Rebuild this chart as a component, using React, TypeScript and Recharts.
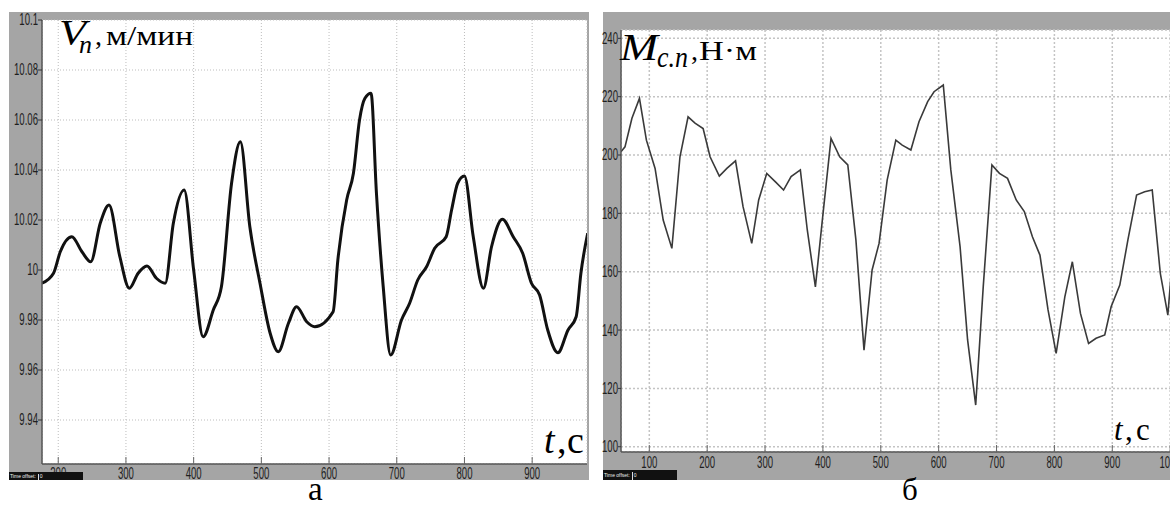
import React from 'react';
import { LineChart, Line, XAxis, YAxis, CartesianGrid } from 'recharts';

// Panel "а": speed V_n, m/min
const speedTime = [
  176, 193, 203, 220, 235, 248, 262, 275, 291, 305, 318, 331, 345, 358, 370, 386, 400, 414, 429, 441,
  456, 469, 483, 498, 513, 525, 540, 552, 567, 579, 606, 613, 626, 636, 645, 653, 662, 670, 680, 691,
  707, 719, 731, 744, 756, 773, 781, 790, 800, 813, 828, 840, 856, 872, 886, 899, 911, 923, 938, 953,
  965, 972, 982,
];
const speedValue = [
  9.9947, 9.9987, 10.0073, 10.0133, 10.0073, 10.0033, 10.0187, 10.026, 10.0053, 9.9927, 9.9987, 10.0016,
  9.9967, 9.9947, 10.0187, 10.032, 10.0, 9.9733, 9.984, 9.9933, 10.0347, 10.0513, 10.0173, 9.9947,
  9.9747, 9.9673, 9.9787, 9.9853, 9.9793, 9.9773, 9.9833, 10.004, 10.028, 10.0387, 10.06, 10.0687,
  10.0707, 10.0307, 9.9933, 9.966, 9.98, 9.9867, 9.996, 10.0013, 10.0087, 10.0133, 10.024, 10.0347,
  10.0376, 10.0133, 9.9927, 10.0093, 10.0203, 10.0133, 10.0067, 9.9947, 9.99, 9.976, 9.9669, 9.976,
  9.9813, 9.9987, 10.0147,
];
const speedXTicks = [200, 300, 400, 500, 600, 700, 800, 900];
const speedYTicks = [9.94, 9.96, 9.98, 10, 10.02, 10.04, 10.06, 10.08, 10.1];

// Panel "б": torque M_c.n, N·m
const torqueTime = [
  51, 58, 70, 83, 95, 110, 124, 139, 153, 167, 179, 193, 205, 221, 234, 249, 262, 277, 289, 303,
  318, 332, 345, 361, 373, 387, 399, 414, 429, 443, 457, 471, 485, 497, 511, 526, 537, 552, 566, 581,
  592, 608, 621, 637, 650, 664, 677, 692, 705, 719, 734, 748, 762, 775, 789, 803, 818, 831, 845, 859,
  872, 887, 898, 913, 927, 942, 956, 969, 983, 996, 1003,
];
const torqueValue = [
  201.1, 202.8, 212.6, 219.4, 205.1, 195.4, 177.7, 168, 199.4, 213.1, 210.9, 209.1, 199.4, 192.8, 195.4,
  198, 182.3, 169.7, 184.6, 193.7, 190.8, 188, 192.6, 194.9, 174.3, 154.8, 177.7, 205.7, 199.4, 196.6,
  170.9, 133.1, 160.6, 169.7, 191.4, 205.1, 203.4, 201.7, 211.4, 218.3, 221.7, 224, 194.9, 168.6, 136.6,
  114.3, 154.8, 196.6, 193.7, 192, 184.6, 180.6, 172, 165.7, 146.9, 132, 151.4, 163.4, 145.7, 135.4,
  137.2, 138.3, 148, 155.4, 170.9, 186.3, 187.4, 188, 159.4, 145.1, 162.3,
];
const torqueXTicks = [100, 200, 300, 400, 500, 600, 700, 800, 900, 1000];
const torqueYTicks = [100, 120, 140, 160, 180, 200, 220, 240];

const speedData = speedTime.map((t, i) => ({ t, v: speedValue[i] }));
const torqueData = torqueTime.map((t, i) => ({ t, v: torqueValue[i] }));

const TICK_FONT = "'Liberation Sans', Arial, sans-serif";
const SERIF = "'Liberation Serif', 'Times New Roman', Times, serif";
const FRAME = '#a5a5a5';

const XTick = (props: any) => {
  const { x, y, payload, gap } = props;
  return (
    <g>
      <line x1={x} x2={x} y1={y - gap} y2={y - gap - 7} stroke="#666" strokeWidth={1} />
      <text
        x={0}
        y={0}
        transform={`translate(${x},${y}) scale(0.6,1)`}
        textAnchor="middle"
        dominantBaseline="central"
        style={{ fontFamily: TICK_FONT }}
        fontSize={16}
        fill="#1e1e1e"
      >
        {payload.value}
      </text>
    </g>
  );
};

const YTick = (props: any) => {
  const { x, y, payload } = props;
  return (
    <text
      x={0}
      y={0}
      transform={`translate(${x},${y}) scale(0.6,1)`}
      textAnchor="end"
      dominantBaseline="central"
      style={{ fontFamily: TICK_FONT }}
      fontSize={16}
      fill="#1e1e1e"
    >
      {payload.value}
    </text>
  );
};

const OffsetBox = ({ left, top, h }: { left: number; top: number; h: number }) => (
  <div
    style={{
      position: 'absolute',
      left,
      top,
      width: 74,
      height: h,
      background: '#111',
      color: '#eee',
      fontFamily: TICK_FONT,
      fontSize: 5,
      lineHeight: `${h}px`,
      overflow: 'hidden',
      whiteSpace: 'nowrap',
    }}
  >
    <span style={{ paddingLeft: 1 }}>Time offset:</span>
    <span style={{ display: 'inline-block', width: 1, height: h - 2, background: '#ddd', marginLeft: 2, verticalAlign: 'middle' }} />
    <span style={{ paddingLeft: 1 }}>0</span>
  </div>
);

const T = (p: any) => <text style={{ fontFamily: SERIF }} fill="#000" {...p} />;

export default function App() {
  return (
    <div
      style={{
        position: 'fixed',
        left: 0,
        top: 0,
        width: 1170,
        height: 506,
        overflow: 'hidden',
        background: '#fff',
      }}
    >
      {/* Left panel frame */}
      <div style={{ position: 'absolute', left: 9, top: 12, width: 580, height: 468, background: FRAME }} />
      <div style={{ position: 'absolute', left: 3, top: 12 }}>
        <LineChart width={586} height={476} data={speedData} margin={{ top: 8, right: 2, bottom: 8, left: 0 }}>
          <CartesianGrid fill="#ffffff" stroke="#bdbdbd" strokeDasharray="1 2" />
          <XAxis
            dataKey="t"
            type="number"
            domain={[176, 981]}
            ticks={speedXTicks}
            allowDataOverflow
            height={16}
            tickSize={0}
            tickMargin={10}
            tickLine={false}
            axisLine={{ stroke: '#555', strokeWidth: 1.5 }}
            tick={(p: any) => <XTick {...p} gap={10} />}
            interval={0}
          />
          <YAxis
            type="number"
            domain={[9.9224, 10.1]}
            ticks={speedYTicks}
            allowDataOverflow
            width={39}
            tickSize={4}
            tickMargin={0}
            tickLine={{ stroke: '#333' }}
            axisLine={{ stroke: '#555', strokeWidth: 1.5 }}
            tick={(p: any) => <YTick {...p} />}
            interval={0}
          />
          <Line
            type="monotone"
            dataKey="v"
            stroke="#111"
            strokeWidth={3}
            dot={false}
            isAnimationActive={false}
          />
        </LineChart>
      </div>
      <OffsetBox left={9} top={472} h={8} />

      {/* Right panel frame */}
      <div style={{ position: 'absolute', left: 603, top: 12, width: 567, height: 468, background: FRAME }} />
      <div style={{ position: 'absolute', left: 597, top: 12 }}>
        <LineChart width={579} height={476} data={torqueData} margin={{ top: 18, right: 0, bottom: 8, left: 0 }}>
          <CartesianGrid fill="#ffffff" stroke="#c4c4c4" strokeWidth={1.5} strokeDasharray="2 2" />
          <XAxis
            dataKey="t"
            type="number"
            domain={[51.1, 1010.1]}
            ticks={torqueXTicks}
            allowDataOverflow
            height={28}
            tickSize={0}
            tickMargin={11}
            tickLine={false}
            axisLine={{ stroke: '#555', strokeWidth: 1.5 }}
            tick={(p: any) => <XTick {...p} gap={11} />}
            interval={0}
          />
          <YAxis
            type="number"
            domain={[98.2, 242.85]}
            ticks={torqueYTicks}
            allowDataOverflow
            width={24}
            tickSize={3}
            tickMargin={0}
            tickLine={{ stroke: '#333' }}
            axisLine={{ stroke: '#555', strokeWidth: 1.5 }}
            tick={(p: any) => <YTick {...p} />}
            interval={0}
          />
          <Line
            type="linear"
            dataKey="v"
            stroke="#3a3a3a"
            strokeWidth={1.6}
            dot={false}
            isAnimationActive={false}
          />
        </LineChart>
      </div>
      <OffsetBox left={603} top={470} h={10} />

      {/* Text overlays */}
      <svg
        width={1170}
        height={506}
        style={{ position: 'absolute', left: 0, top: 0, pointerEvents: 'none' }}
      >
        {/* V_n, м/мин */}
        <T x={59} y={45} fontSize={35} fontStyle="italic" textLength={27} lengthAdjust="spacingAndGlyphs">V</T>
        <T x={79} y={53} fontSize={26} fontStyle="italic">n</T>
        <T x={95} y={45} fontSize={28}>,</T>
        <T x={106} y={45} fontSize={28} textLength={87} lengthAdjust="spacingAndGlyphs">м/мин</T>

        {/* t, с (left) */}
        <T x={544} y={453} fontSize={38} fontStyle="italic">t</T>
        <T x={557} y={453} fontSize={38}>,</T>
        <T x={567} y={453} fontSize={38}>с</T>

        {/* а */}
        <T x={308} y={500} fontSize={33}>а</T>

        {/* M_c.n, Н·м */}
        <T x={620} y={60} fontSize={38} fontStyle="italic" textLength={38} lengthAdjust="spacingAndGlyphs">M</T>
        <T x={657} y={67} fontSize={30} fontStyle="italic" textLength={31} lengthAdjust="spacingAndGlyphs">c.n</T>
        <T x={691} y={60} fontSize={28}>,</T>
        <T x={699} y={60} fontSize={27} textLength={58} lengthAdjust="spacingAndGlyphs">Н·м</T>

        {/* t, с (right) */}
        <T x={1114} y={440} fontSize={31} fontStyle="italic">t</T>
        <T x={1125} y={440} fontSize={31}>,</T>
        <T x={1136} y={440} fontSize={31}>с</T>

        {/* б */}
        <T x={902} y={500} fontSize={31}>б</T>
      </svg>
    </div>
  );
}
